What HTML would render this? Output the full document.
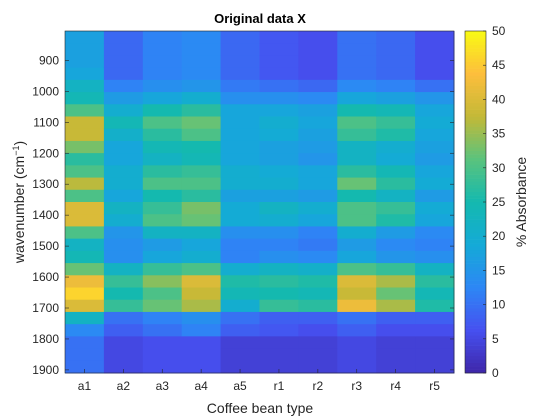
<!DOCTYPE html>
<html><head><meta charset="utf-8"><style>
body{margin:0;background:#fff;}
svg{display:block;font-family:"Liberation Sans",Arial,sans-serif;}
</style></head><body>
<svg id="chart" width="560" height="420" viewBox="0 0 560 420"></svg>
<script>
const categories=["a1","a2","a3","a4","a5","r1","r2","r3","r4","r5"];
const wnMin=805, wnMax=1910;
const yTicks=[900,1000,1100,1200,1300,1400,1500,1600,1700,1800,1900];
const cbTicks=[0,5,10,15,20,25,30,35,40,45,50];
const a1=[17,17,17,18,22,24,30,38,38,33,27,30,37,30,40,40,30,22,24,32,42,46,40,22,13,10,10,10];
const a2=[9,9,9,9,12,16,20,24,21,18,18,20,20,18,22,20,15,14,14,22,28,25,28,10,8,5,5,5];
const a3=[12,12,12,12,14,18,25,30,27,24,22,27,30,25,28,30,22,16,18,28,34,30,32,12,10,6,6,6];
const a4=[13,13,13,13,15,20,27,32,30,25,24,28,30,27,33,32,22,18,20,30,40,38,36,14,12,6,6,6];
const a5=[9,9,9,9,11,14,18,18,18,18,18,20,20,17,19,19,14,12,12,20,26,24,20,10,8,4,4,4];
const r1=[7,7,7,7,10,14,18,20,19,17,17,19,20,17,22,20,14,12,14,22,27,25,28,8,7,4,4,4];
const r2=[6,6,6,6,9,13,17,18,17,16,15,18,18,16,20,18,12,11,13,21,26,24,27,8,6,4,4,4];
const r3=[10,10,10,10,13,18,25,30,28,22,22,27,32,25,30,30,20,16,18,30,40,38,42,10,8,5,5,5];
const r4=[9,9,9,9,12,17,24,28,26,20,19,24,27,22,28,26,16,13,15,28,36,32,36,8,6,4,4,4];
const r5=[6,6,6,6,10,15,18,19,18,17,16,18,19,16,19,18,13,12,14,22,27,24,26,8,6,4,4,4];
const series=[a1,a2,a3,a4,a5,r1,r2,r3,r4,r5];
const vMin=0, vMax=50;

const NS="http://www.w3.org/2000/svg";
const svg=document.getElementById('chart');
const L=65,R=454,T=31,B=373;
const CX0=465,CX1=486;
function xS(i){return L+(R-L)*i/categories.length;}
function yS(w){return T+(B-T)*(w-wnMin)/(wnMax-wnMin);}
function cbY(v){return B-(B-T)*(v-vMin)/(vMax-vMin);}
const stops=[[62,38,168],[70,80,240],[45,135,245],[20,170,215],[20,185,175],[90,195,125],[195,185,55],[253,190,60],[249,250,20]];
function color(v){let t=Math.max(0,Math.min(1,(v-vMin)/(vMax-vMin)))*(stops.length-1);let i=Math.min(stops.length-2,Math.floor(t));let f=t-i;const c=stops[i].map((a,k)=>Math.round(a+(stops[i+1][k]-a)*f));return `rgb(${c[0]},${c[1]},${c[2]})`;}
function mk(tag,attrs,parent){const e=document.createElementNS(NS,tag);for(const k in attrs)e.setAttribute(k,attrs[k]);(parent||svg).appendChild(e);return e;}

const g=mk('g',{});


series.forEach((col,ci)=>{
  const n=col.length, step=(wnMax-wnMin)/n;
  col.forEach((v,ri)=>{
    const y0=yS(wnMin+ri*step), y1=yS(wnMin+(ri+1)*step);
    const r=mk('rect',{x:xS(ci),y:y0,width:xS(ci+1)-xS(ci)+0.5,height:y1-y0+0.5,fill:color(v)},g);
    
    
  });
});
const box=mk('rect',{x:L,y:T,width:R-L,height:B-T,fill:'none',stroke:'#262626','stroke-width':0.6});


yTicks.forEach(w=>{
  const y=yS(w);
  mk('line',{x1:L,x2:L+4,y1:y,y2:y,stroke:'#262626','stroke-width':0.6});
  mk('line',{x1:R,x2:R-4,y1:y,y2:y,stroke:'#262626','stroke-width':0.6});
  const t=mk('text',{x:L-6,y:y+4,'text-anchor':'end','font-size':12,fill:'#262626'});
  t.textContent=w;
  
  
});
categories.forEach((c,i)=>{
  const x=(xS(i)+xS(i+1))/2;
  mk('line',{x1:x,x2:x,y1:B,y2:B-4,stroke:'#262626','stroke-width':0.6});
  const t=mk('text',{x:x,y:B+17,'text-anchor':'middle','font-size':12,fill:'#262626'});
  t.textContent=c;
  
  
});
const cg=mk('g',{});


for(let v=vMin;v<vMax;v+=0.5){mk('rect',{x:CX0,y:cbY(v+0.5),width:CX1-CX0,height:cbY(v)-cbY(v+0.5)+0.3,fill:color(v+0.25)},cg);}
mk('rect',{x:CX0,y:T,width:CX1-CX0,height:B-T,fill:'none',stroke:'#262626','stroke-width':0.6},cg);
cbTicks.forEach(v=>{
  const y=cbY(v);
  mk('line',{x1:CX1,x2:CX1-3,y1:y,y2:y,stroke:'#262626','stroke-width':0.6},cg);
  const t=mk('text',{x:CX1+6,y:y+4,'font-size':12,fill:'#262626'},cg);
  t.textContent=v;
  
  
});
</script>
<svg style="position:absolute;left:0;top:0" width="560" height="420">
<text x="260" y="23" text-anchor="middle" font-size="13" font-weight="bold" fill="#000" font-family="Liberation Sans, sans-serif">Original data X</text>
<text x="260" y="413" text-anchor="middle" font-size="14" fill="#262626" font-family="Liberation Sans, sans-serif">Coffee bean type</text>
<text transform="translate(24,202) rotate(-90)" text-anchor="middle" font-size="14" fill="#262626" font-family="Liberation Sans, sans-serif">wavenumber (cm<tspan font-size="9" dy="-5">−1</tspan><tspan dy="5">)</tspan></text>
<text transform="translate(526,202) rotate(-90)" text-anchor="middle" font-size="14" fill="#262626" font-family="Liberation Sans, sans-serif">% Absorbance</text>
</svg>
</body></html>
